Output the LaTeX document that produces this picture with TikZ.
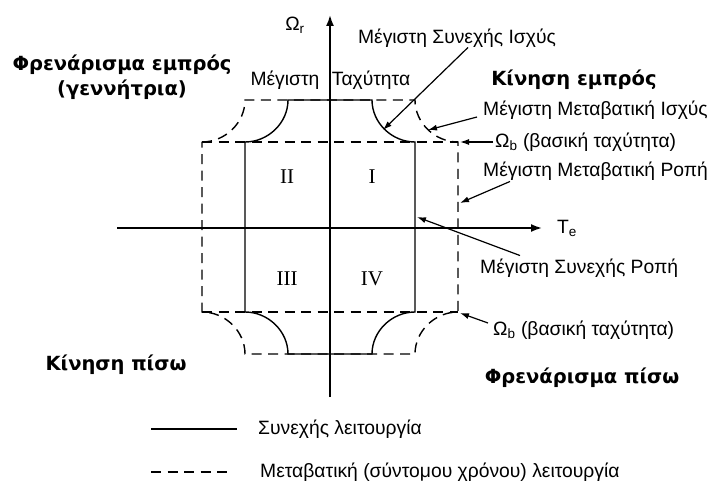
\documentclass[tikz,border=0pt]{standalone}
\usepackage{fontspec}
\setmainfont{Liberation Sans}
\newfontfamily\headfont{DejaVu Sans}
\newfontfamily\romanfont{Liberation Serif}
\usetikzlibrary{arrows.meta}
\usetikzlibrary{positioning}

\tikzset{
  cont/.style={line width=1.4pt},
  trans/.style={line width=1.4pt, dash pattern=on 10pt off 6.5pt},
  axis/.style={line width=1.8pt, -{Latex[length=11pt,width=8pt]}},
  pointer/.style={line width=1.2pt, -{Latex[length=9pt,width=6pt]}},
  lbl/.style={font=\fontsize{19.3}{22}\selectfont, inner sep=0pt},
  head/.style={font=\headfont\bfseries\fontsize{19.5}{22}\selectfont, inner sep=0pt, align=center},
  quad/.style={font=\romanfont\fontsize{21}{22}\selectfont, inner sep=0pt}
}

\begin{document}
\begin{tikzpicture}[x=1pt, y=-1pt]
\useasboundingbox (0,0) rectangle (712,481);

% transient (dashed) limits
\draw[trans] (202,142) -- (458,142);
\draw[trans] (202,312) -- (458,312);
\draw[trans] (202,142) .. controls (225,142) and (245,123) .. (245,100) -- (415,100)
  .. controls (415,123) and (435,142) .. (458,142) -- (458,312)
  .. controls (435,312) and (415,331) .. (415,354) -- (245,354)
  .. controls (245,331) and (225,312) .. (202,312) -- cycle;

% continuous (solid) limits
\draw[cont] (245,312) -- (245,142) .. controls (268,142) and (288,123) .. (288,100) -- (372,100)
  .. controls (372,123) and (392,142) .. (415,142) -- (415,312)
  .. controls (392,312) and (372,331) .. (372,354) -- (288,354)
  .. controls (288,331) and (268,312) .. (245,312);

% axes
\draw[axis] (330,397) -- (330,15);
\draw[axis] (117,228) -- (542,228);
\node[lbl] (wr) at (295,25) {Ω\textsubscript{r}};
\node[lbl, anchor=west] (te) at (557,228) {T\textsubscript{e}};

% quadrants
\node[quad] (q1) at (372,177) {I};
\node[quad] (q2) at (287,177) {II};
\node[quad] (q3) at (287,279) {III};
\node[quad] (q4) at (372,279) {IV};

\node[lbl] (vmax) at (285,80) {Μέγιστη};
\node[lbl] (vspd) at (371,80) {Ταχύτητα};

\node[head] (fbrake) at (122,65) {Φρενάρισμα εμπρός};
\node[head] (gen) at (122,90) {(γεννήτρια)};
\node[head] (fdrive) at (574,80) {Κίνηση εμπρός};
\node[head] (rdrive) at (116,365) {Κίνηση πίσω};
\node[head] (rbrake) at (582,378) {Φρενάρισμα πίσω};

% annotations
\coordinate (pcont) at (383,130);
\coordinate (ptrans) at (428,130);
\coordinate (wbtop) at (460,142);
\coordinate (ttrans) at (460,203);
\coordinate (tcont) at (417,217);
\coordinate (wbbot) at (460,313);

\node[lbl] (mcp) at (457,38) {Μέγιστη Συνεχής Ισχύς};
\node[lbl, anchor=west] (mtp) at (483,110) {Μέγιστη Μεταβατική Ισχύς};
\node[lbl, anchor=west] (wb1) at (495,142) {Ω\textsubscript{b} (βασική ταχύτητα)};
\node[lbl, anchor=west] (mtt) at (483,171) {Μέγιστη Μεταβατική Ροπή};
\node[lbl, anchor=west] (mct) at (480,268) {Μέγιστη Συνεχής Ροπή};
\node[lbl, anchor=west] (wb2) at (493,330) {Ω\textsubscript{b} (βασική ταχύτητα)};

\draw[pointer] ([xshift=11pt]mcp.south) -- (pcont);
\draw[pointer] ([xshift=-6pt, yshift=-7pt]mtp.west) -- (ptrans);
\draw[pointer] ([xshift=-2pt]wb1.west) -- (wbtop);
\draw[pointer] ([xshift=27pt, yshift=-1pt]mtt.south west) -- (ttrans);
\draw[pointer] ([xshift=40pt, yshift=3pt]mct.north west) -- (tcont);
\draw[pointer] ([xshift=-5pt, yshift=7pt]wb2.west) -- (wbbot);

% legend
\draw[cont] (151,429) -- (237,429);
\draw[trans] (151,472) -- (228,472);
\node[lbl, anchor=west] (lgc) at (258,429) {Συνεχής λειτουργία};
\node[lbl, anchor=west] (lgt) at (260,472) {Μεταβατική (σύντομου χρόνου) λειτουργία};

\end{tikzpicture}
\end{document}
